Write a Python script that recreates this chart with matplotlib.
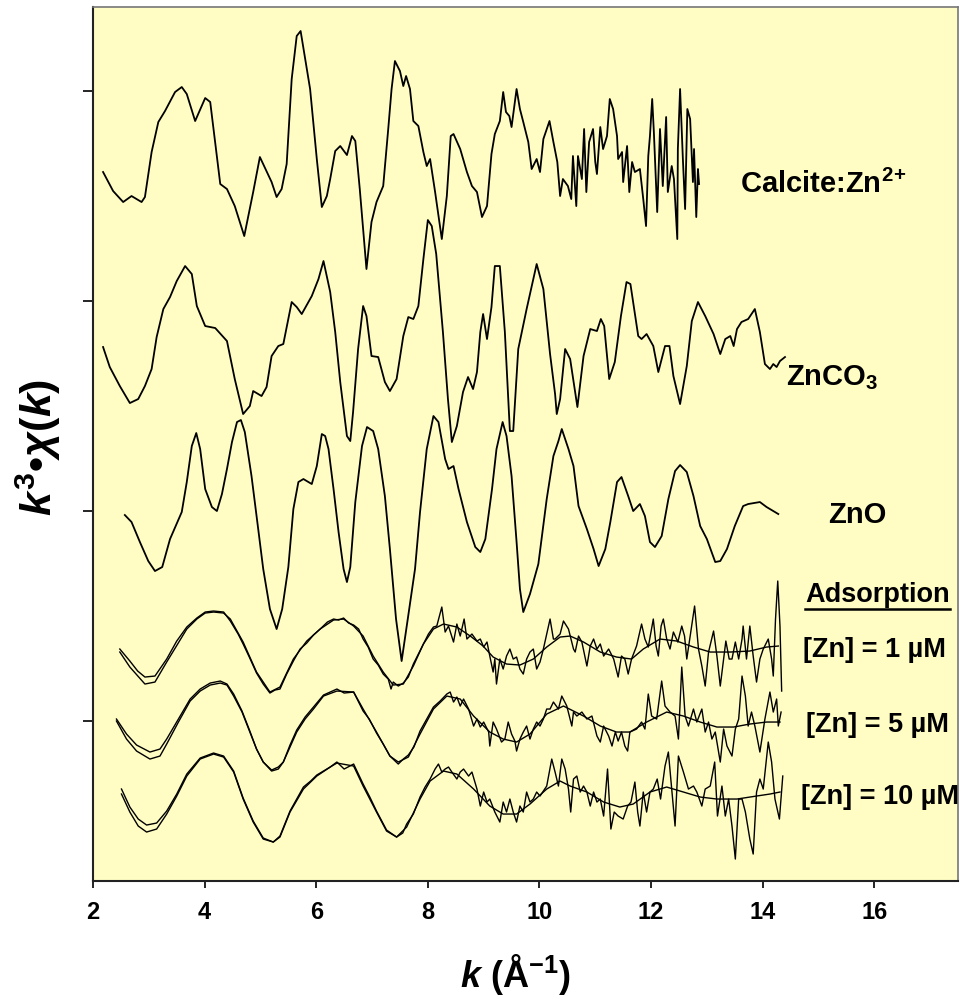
import matplotlib
matplotlib.use("Agg")
import matplotlib.pyplot as plt
from matplotlib.lines import Line2D

plt.rcParams['font.family'] = ['Liberation Sans', 'DejaVu Sans']
plt.rcParams['mathtext.fontset'] = 'custom'
plt.rcParams['mathtext.rm'] = 'Liberation Sans:bold'
plt.rcParams['mathtext.it'] = 'Liberation Sans:bold:italic'
plt.rcParams['mathtext.bf'] = 'Liberation Sans:bold'

# reference spectra (k in 1/A, chi in arbitrary units)
calcite_k = [2.18, 2.36, 2.54, 2.69, 2.87, 2.93, 3.05, 3.17, 3.29, 3.47,
             3.59, 3.68, 3.83, 4.01, 4.10, 4.28, 4.40, 4.54, 4.71, 4.87,
             4.99, 5.20, 5.29, 5.38, 5.47, 5.56, 5.65, 5.72, 5.89, 6.01,
             6.10, 6.19, 6.25, 6.34, 6.43, 6.55, 6.64, 6.70, 6.78, 6.90,
             6.99, 7.08, 7.20, 7.29, 7.35, 7.41, 7.50, 7.56, 7.61, 7.68,
             7.74, 7.83, 7.92, 7.98, 8.04, 8.13, 8.25, 8.34, 8.41, 8.46,
             8.58, 8.70, 8.79, 8.88, 8.97, 9.06, 9.14, 9.20, 9.29, 9.35,
             9.40, 9.46, 9.50, 9.59, 9.65, 9.71, 9.80, 9.86, 9.95, 10.01,
             10.07, 10.18, 10.25, 10.32, 10.37, 10.42, 10.51, 10.57, 10.60, 10.66,
             10.69, 10.76, 10.80, 10.84, 10.89, 10.96, 11.00, 11.03, 11.09, 11.14,
             11.21, 11.26, 11.32, 11.39, 11.41, 11.48, 11.50, 11.57, 11.61, 11.66,
             11.71, 11.80, 11.86, 11.91, 11.95, 11.98, 12.02, 12.05, 12.11, 12.16,
             12.21, 12.27, 12.30, 12.37, 12.41, 12.47, 12.48, 12.52, 12.57, 12.61,
             12.65, 12.70, 12.75, 12.77, 12.81, 12.84, 12.86]
calcite_chi = [-23, -42, -53, -47, -53, -48, -3, 27, 38, 57,
               62, 55, 28, 51, 47, -35, -40, -57, -87, -43,
               -8, -33, -48, -40, -15, 70, 113, 118, 60, -10,
               -58, -47, -30, -2, 3, -6, 13, 8, -40, -120,
               -73, -53, -37, 20, 60, 88, 78, 63, 73, 60,
               28, 23, -3, -17, -10, -43, -90, -47, 13, 15,
               0, -23, -37, -43, -68, -57, -5, 15, 28, 57,
               37, 33, 22, 60, 40, 27, 7, -20, -10, -23,
               10, 28, 7, -13, -47, -30, -37, -50, -7, -57,
               -7, -30, 20, -43, 7, 20, -13, -25, 22, 0,
               13, 50, 40, 13, -10, -3, -33, 3, -43, -13,
               -23, -20, -50, -77, -7, 13, 50, 17, -63, 20,
               -37, 32, -43, -17, -30, -90, 0, 60, -10, -60,
               40, 30, -33, 0, -68, -20, -35]

znco3_k = [2.18, 2.30, 2.48, 2.66, 2.81, 2.93, 3.05, 3.14, 3.26, 3.38,
           3.50, 3.65, 3.77, 3.86, 4.01, 4.19, 4.40, 4.54, 4.69, 4.81,
           4.87, 5.02, 5.11, 5.20, 5.32, 5.41, 5.56, 5.65, 5.74, 5.92,
           6.04, 6.13, 6.25, 6.34, 6.43, 6.55, 6.61, 6.66, 6.75, 6.84,
           6.90, 6.99, 7.11, 7.23, 7.32, 7.44, 7.56, 7.65, 7.74, 7.83,
           7.92, 8.00, 8.07, 8.15, 8.27, 8.36, 8.43, 8.52, 8.63, 8.72,
           8.81, 8.88, 8.94, 8.99, 9.06, 9.14, 9.20, 9.29, 9.38, 9.47,
           9.53, 9.62, 9.77, 9.95, 10.07, 10.19, 10.28, 10.31, 10.37, 10.46,
           10.55, 10.68, 10.79, 10.91, 11.03, 11.10, 11.16, 11.25, 11.35, 11.46,
           11.56, 11.63, 11.77, 11.83, 11.92, 12.04, 12.13, 12.25, 12.33, 12.40,
           12.52, 12.64, 12.73, 12.84, 12.97, 13.12, 13.24, 13.33, 13.42, 13.48,
           13.54, 13.62, 13.74, 13.86, 13.95, 14.04, 14.13, 14.19, 14.25, 14.31,
           14.40]
znco3_chi = [2, -18, -37, -54, -50, -37, -20, 12, 40, 52,
             68, 83, 75, 43, 23, 21, 8, -30, -65, -57,
             -42, -47, -38, -7, 3, 5, 47, 42, 35, 53,
             70, 88, 57, 17, -33, -87, -92, -63, 0, 43,
             33, -7, -8, -33, -42, -30, 13, 32, 30, 43,
             90, 129, 123, 95, 17, -50, -93, -77, -43, -28,
             -40, -23, 17, 35, 10, 42, 83, 83, 17, -82,
             -82, 0, 40, 85, 60, -5, -45, -65, -50, 0,
             -10, -58, -7, 20, 18, 30, 23, -30, -13, 33,
             67, 65, 13, 10, 15, 3, -23, 3, 3, -27,
             -55, -17, 28, 47, 33, 15, -5, 10, 13, 3,
             20, 27, 30, 40, 17, -15, -20, -15, -18, -12,
             -8]

zno_k = [2.57, 2.69, 2.84, 2.99, 3.11, 3.24, 3.38, 3.59, 3.68, 3.77,
         3.85, 3.92, 4.01, 4.13, 4.22, 4.31, 4.40, 4.49, 4.58, 4.65,
         4.72, 4.84, 4.96, 5.05, 5.17, 5.29, 5.39, 5.50, 5.59, 5.68,
         5.77, 5.92, 6.01, 6.10, 6.16, 6.22, 6.31, 6.40, 6.49, 6.55,
         6.61, 6.70, 6.82, 6.91, 7.02, 7.11, 7.23, 7.32, 7.43, 7.53,
         7.64, 7.77, 7.86, 7.98, 8.10, 8.19, 8.31, 8.37, 8.46, 8.55,
         8.70, 8.85, 8.94, 9.03, 9.15, 9.23, 9.34, 9.41, 9.50, 9.59,
         9.65, 9.71, 9.83, 9.98, 10.13, 10.25, 10.34, 10.40, 10.52, 10.61,
         10.70, 10.85, 10.97, 11.06, 11.18, 11.27, 11.39, 11.47, 11.59, 11.68,
         11.80, 11.89, 11.98, 12.07, 12.19, 12.31, 12.43, 12.52, 12.64, 12.76,
         12.88, 13.00, 13.15, 13.24, 13.36, 13.50, 13.65, 13.74, 13.95, 14.07,
         14.28]
zno_chi = [-16, -23, -43, -62, -72, -68, -40, -13, 17, 53,
           66, 50, 10, -8, -12, 5, 30, 57, 77, 79,
           67, 23, -30, -70, -110, -130, -110, -68, -10, 17,
           20, 15, 33, 65, 63, 50, 10, -33, -70, -83,
           -68, -3, 53, 72, 68, 50, 3, -50, -120, -162,
           -120, -70, -13, 50, 83, 77, 40, 30, 33, 10,
           -23, -48, -53, -40, 10, 50, 77, 63, 23, -43,
           -90, -113, -95, -65, 0, 43, 58, 70, 50, 33,
           -7, -30, -50, -67, -50, -23, 17, 22, 3, -12,
           -5, -17, -43, -48, -37, 0, 28, 34, 27, 3,
           -27, -40, -63, -62, -50, -27, -7, -5, -3, -8,
           -15]

# adsorption samples: measured data and fit
ads1_k = [2.48, 2.66, 2.80, 2.93, 3.11, 3.32, 3.50, 3.68, 3.86, 4.01,
          4.16, 4.34, 4.46, 4.60, 4.69, 4.80, 4.93, 5.05, 5.17, 5.26,
          5.35, 5.47, 5.59, 5.71, 5.83, 5.95, 6.07, 6.20, 6.31, 6.40,
          6.49, 6.58, 6.67, 6.76, 6.84, 6.93, 7.02, 7.11, 7.20, 7.29,
          7.34, 7.38, 7.47, 7.56, 7.65, 7.74, 7.83, 7.92, 8.01, 8.10,
          8.16, 8.25, 8.31, 8.37, 8.46, 8.52, 8.58, 8.65, 8.70, 8.79,
          8.88, 8.94, 9.00, 9.06, 9.11, 9.17, 9.20, 9.23, 9.29, 9.35,
          9.41, 9.47, 9.53, 9.59, 9.65, 9.71, 9.77, 9.83, 9.89, 9.95,
          10.01, 10.07, 10.19, 10.25,
          10.28, 10.37, 10.43, 10.52, 10.61, 10.64, 10.70, 10.76, 10.85, 10.91,
          10.97, 11.03, 11.09, 11.15, 11.24, 11.33, 11.41, 11.47, 11.53, 11.59,
          11.65, 11.74, 11.83, 11.89, 11.95, 12.04, 12.09, 12.13, 12.18, 12.22,
          12.28, 12.34, 12.40, 12.48, 12.55, 12.60, 12.64, 12.70, 12.78, 12.85,
          12.91, 12.97, 13.03, 13.12, 13.18, 13.24, 13.30, 13.34, 13.40, 13.45,
          13.51, 13.57, 13.63, 13.65, 13.71, 13.77, 13.83, 13.89, 13.95, 14.01,
          14.10, 14.16, 14.19, 14.23, 14.27, 14.31, 14.34]
ads1_chi = [0, -12, -22, -28, -27, -10, 8, 22, 31, 37,
            38, 37, 28, 15, 5, -8, -24, -35, -44, -41,
            -40, -25, -12, 0, 6, 14, 20, 27, 30, 29,
            31, 26, 24, 20, 10, 2, -10, -16, -25, -30,
            -40, -33, -37, -34, -28, -15, -5, 5, 15, 22,
            23, 42, 17, 23, 7, 25, 13, 30, 10, 15,
            8, 10, 2, 7, -7, -23, -10, -35, -10, -20,
            -7, 0, -10, -8, -20, -25, -10, -3, 0, -20,
            -13, 0, 30, 10,
            10, 15, 28, 20, 0, -3, 13, 7, -17, 3,
            10, 0, 5, -7, 0, -10, -28, -7, -10, -25,
            -10, 3, 25, 10, 2, 30, 3, -7, 23, 30,
            10, 0, 17, 7, 23, 13, -10, 13, 43, 0,
            -17, -37, -3, 18, -7, -37, -10, 8, -10, -10,
            7, -10, 10, 23, -10, 23, -7, -33, -10, 0,
            10, -10, -27, 30, 68, 23, -42]
ads1_fit_k = [2.48, 2.66, 2.93, 3.11, 3.32, 3.68, 3.86, 4.01, 4.16, 4.34,
              4.46, 4.69, 4.93, 5.17, 5.35, 5.59, 5.83, 6.07, 6.31, 6.49,
              6.67, 6.84, 7.02, 7.20, 7.38, 7.56, 7.74, 7.92, 8.10, 8.28,
              8.52, 8.76, 8.99, 9.17, 9.41, 9.65, 9.89, 10.13, 10.37, 10.55,
              10.79, 11.09, 11.38, 11.65, 11.86, 12.16, 12.46, 12.76, 13.06, 13.42,
              13.77, 14.07, 14.28]
ads1_fit = [-3, -18, -35, -33, -13, 20, 30, 36, 37, 36,
            30, 7, -23, -43, -38, -10, 8, 20, 29, 30,
            23, 13, -7, -23, -36, -35, -17, 5, 20, 25,
            22, 13, 3, -8, -15, -16, -10, 2, 12, 13,
            7, -3, -8, -10, 0, 10, 8, 2, -3, -3,
            -2, 2, 3]

ads5_k = [2.42, 2.60, 2.78, 3.02, 3.20, 3.32, 3.53, 3.74, 3.92, 4.10,
          4.28, 4.40, 4.52, 4.67, 4.81, 4.93, 5.05, 5.20, 5.32, 5.41,
          5.53, 5.65, 5.80, 5.95, 6.13, 6.25, 6.37, 6.50, 6.67, 6.84,
          6.95, 7.08, 7.20, 7.32, 7.47, 7.56, 7.65, 7.75, 7.86, 7.98,
          8.10, 8.22, 8.34,
          8.40, 8.46, 8.52, 8.58, 8.64, 8.73, 8.82, 8.88, 8.94, 9.00,
          9.09, 9.11, 9.17, 9.23, 9.32, 9.38, 9.44, 9.50, 9.56, 9.59,
          9.65, 9.71, 9.77, 9.83, 9.89, 9.95, 10.01, 10.07, 10.13,
          10.19, 10.25, 10.34, 10.40, 10.49, 10.58, 10.61, 10.67, 10.76, 10.85,
          10.94, 11.03, 11.09, 11.15, 11.24, 11.30, 11.36, 11.41, 11.47, 11.53,
          11.58, 11.62, 11.74, 11.83, 11.89, 11.95, 12.01, 12.10, 12.19, 12.25,
          12.34, 12.43, 12.49, 12.55, 12.61, 12.67, 12.76, 12.82, 12.91, 12.97,
          13.03, 13.09, 13.15, 13.24, 13.30, 13.36, 13.45, 13.51, 13.57, 13.63,
          13.69, 13.74, 13.80, 13.86, 13.95, 14.04, 14.13, 14.19, 14.25, 14.28,
          14.33]
ads5_chi = [0, -15, -26, -33, -30, -20, 0, 20, 30, 36,
            38, 35, 25, 8, -12, -30, -43, -51, -48, -43,
            -26, -11, 2, 12, 24, 27, 30, 26, 27, 8,
            0, -14, -25, -37, -45, -40, -36, -28, -12, 0,
            12, 18, 25,
            27, 17, 22, 13, 20, 10, -7, 0, -8, -3,
            -13, -27, -3, -10, -23, -20, -3, -15, -22, -32,
            -20, -13, -7, -20, -10, -3, -7, 0, 10,
            10, 17, 10, 23, 13, -7, 7, 3, 7, 0,
            3, -17, -23, -7, -17, -27, -13, -22, -13, -27,
            -32, -13, -10, -3, -10, 25, 3, 0, 38, 13,
            7, 3, -20, 52, 3, -7, 10, -3, 10, -13,
            -3, -20, -13, -43, -10, -27, -37, -10, 0, 43,
            23, -7, 7, -7, -33, 0, 27, 7, 20, -7,
            7]
ads5_fit_k = [2.42, 2.60, 2.78, 3.02, 3.20, 3.32, 3.53, 3.74, 3.92, 4.10,
              4.28, 4.40, 4.52, 4.67, 4.81, 4.93, 5.05, 5.20, 5.32, 5.41,
              5.53, 5.65, 5.80, 5.95, 6.13, 6.37, 6.67, 6.84, 7.08, 7.32,
              7.47, 7.65, 7.86, 8.10, 8.34, 8.58, 8.82, 9.11, 9.35, 9.59,
              9.83, 10.13, 10.43, 10.79, 11.09, 11.38, 11.62, 11.92, 12.28, 12.58,
              12.88, 13.18, 13.48, 13.77, 14.07, 14.31]
ads5_fit = [-2, -20, -32, -40, -37, -25, -3, 18, 28, 34,
            36, 34, 23, 7, -13, -30, -43, -52, -50, -43,
            -28, -13, 0, 10, 23, 28, 27, 10, -13, -37,
            -43, -38, -15, 10, 23, 20, 3, -13, -20, -23,
            -15, 5, 13, 3, -7, -13, -13, -3, 7, 3,
            -3, -8, -8, -5, -3, -3]

ads10_k = [2.51, 2.66, 2.81, 2.96, 3.14, 3.32, 3.50, 3.68, 3.92, 4.16,
           4.34, 4.52, 4.69, 4.87, 5.05, 5.23, 5.35, 5.53, 5.65, 5.77,
           5.90, 6.01, 6.13, 6.25, 6.37, 6.50, 6.67, 6.84, 6.96, 7.08,
           7.26, 7.44, 7.55, 7.62, 7.74, 7.86, 7.95,
           8.04, 8.13, 8.19, 8.25, 8.31, 8.37, 8.43, 8.52, 8.58, 8.64,
           8.73, 8.79, 8.88, 8.94, 9.00, 9.06, 9.11, 9.20, 9.29, 9.35,
           9.41, 9.47, 9.53, 9.59, 9.65, 9.71, 9.77, 9.83, 9.89, 9.95,
           10.01, 10.13,
           10.22, 10.28, 10.34, 10.40, 10.46, 10.52, 10.56, 10.61, 10.67, 10.73,
           10.79, 10.85, 10.91, 10.97, 11.03, 11.09, 11.15, 11.22, 11.28, 11.34,
           11.41, 11.50, 11.58, 11.64, 11.71, 11.76, 11.80, 11.86, 11.92, 11.98,
           12.04, 12.11, 12.17, 12.25, 12.31, 12.37, 12.43, 12.49, 12.58, 12.67,
           12.76, 12.82, 12.91, 12.97, 13.06, 13.14, 13.19, 13.27, 13.33, 13.39,
           13.45, 13.51, 13.57, 13.63, 13.69, 13.77, 13.83, 13.89, 13.95, 14.01,
           14.10, 14.16, 14.22, 14.30, 14.36]
ads10_chi = [0, -18, -30, -36, -34, -22, -5, 15, 31, 36,
             33, 18, -9, -32, -49, -53, -47, -22, -10, 2,
             8, 14, 18, 22, 27, 20, 25, 5, -8, -22,
             -41, -48, -44, -35, -25, -8, 2,
             10, 20, 25, 17, 20, 22, 17, 10, 17, 20,
             13, 17, 0, -17, -3, -13, -10, -23, -33, -13,
             -23, -10, -23, -33, -17, -23, -3, -13, -10, -3,
             -7, 3,
             30, 17, 3, 30, 20, 0, -23, 10, 13, -3,
             3, -3, -17, -3, -13, -10, -27, 20, -40, -23,
             -27, -30, -17, -13, 7, -23, -37, -3, -23, -3,
             0, 10, -10, 23, 37, 0, -37, 33, 17, 0,
             3, -3, -17, 0, 3, 27, -27, 3, -27, -10,
             -37, -70, -10, -10, -23, -50, -65, -3, 10, 0,
             47, 27, -10, -30, 13]
ads10_fit_k = [2.51, 2.66, 2.81, 2.96, 3.14, 3.32, 3.50, 3.68, 3.92, 4.16,
               4.34, 4.52, 4.69, 4.87, 5.05, 5.23, 5.35, 5.53, 5.77, 6.01,
               6.25, 6.37, 6.67, 6.84, 7.08, 7.26, 7.44, 7.62, 7.86, 8.04,
               8.28, 8.52, 8.82, 9.11, 9.35, 9.59, 9.83, 10.13, 10.37, 10.55,
               10.85, 11.15, 11.44, 11.68, 11.98, 12.28, 12.58, 12.88, 13.18, 13.54,
               13.89, 14.13, 14.31]
ads10_fit = [-5, -23, -37, -43, -40, -25, -7, 13, 30, 35,
             32, 17, -10, -33, -50, -53, -48, -23, 0, 13,
             22, 26, 23, 3, -23, -42, -48, -38, -10, 8,
             18, 15, 0, -17, -25, -25, -15, 0, 8, 3,
             -3, -13, -18, -15, -3, 2, -3, -8, -10, -10,
             -7, -5, -3]

# vertical stacking offsets
offsets = {'calcite': 732, 'znco3': 532, 'zno': 382,
           'ads1': 232, 'ads5': 162, 'ads10': 92}

fig = plt.figure(figsize=(9.63, 10.03), dpi=100)
ax = fig.add_axes([0.0966, 0.1206, 0.8982, 0.8714])
ax.set_facecolor('#FFFDC3')

lw_ref = 1.3
ax.plot(calcite_k, [c + offsets['calcite'] for c in calcite_chi], color='black', lw=lw_ref)
ax.plot(znco3_k, [c + offsets['znco3'] for c in znco3_chi], color='black', lw=lw_ref)
ax.plot(zno_k, [c + offsets['zno'] for c in zno_chi], color='black', lw=lw_ref)

for name, kd, cd, kf, cf in [('ads1', ads1_k, ads1_chi, ads1_fit_k, ads1_fit),
                             ('ads5', ads5_k, ads5_chi, ads5_fit_k, ads5_fit),
                             ('ads10', ads10_k, ads10_chi, ads10_fit_k, ads10_fit)]:
    off = offsets[name]
    ax.plot(kd, [c + off for c in cd], color='black', lw=1.0)
    ax.plot(kf, [c + off for c in cf], color='black', lw=1.0)

ax.set_xlim(2, 17.5)
ax.set_ylim(0, 874)
ax.set_xticks([2, 4, 6, 8, 10, 12, 14, 16])
ax.set_yticks([160, 370, 580, 790])
ax.set_yticklabels([])
ax.tick_params(axis='x', direction='out', length=5, width=1.2, pad=9, labelsize=17)
ax.tick_params(axis='y', direction='out', length=7, width=1.2)
for lab in ax.get_xticklabels():
    lab.set_fontweight('bold')

for side in ['left', 'bottom']:
    ax.spines[side].set_color('#222222')
    ax.spines[side].set_linewidth(1.5)
for side in ['top', 'right']:
    ax.spines[side].set_color('#777777')
    ax.spines[side].set_linewidth(1.2)

ax.set_xlabel('$k$ (Å$^{-1}$)', fontsize=26, fontweight='bold')
ax.xaxis.set_label_coords(0.488, -0.106)
ax.xaxis.label.set_verticalalignment('center')
ax.set_ylabel('$k^{3}$•$\\chi$($k$)', fontsize=31, fontweight='bold')
ax.yaxis.set_label_coords(-0.063, 0.497)
ax.yaxis.label.set_verticalalignment('center')

tkw = dict(fontweight='bold', va='center', ha='left', color='black')
ax.text(13.6, 698, 'Calcite:Zn$^{2\\!+}$', fontsize=21, **tkw)
ax.text(14.42, 504, 'ZnCO$_{3}$', fontsize=21, **tkw)
ax.text(15.17, 367, 'ZnO', fontsize=21, **tkw)
t_ads = ax.text(14.76, 287, 'Adsorption', fontsize=19.5, **tkw)
ax.text(14.72, 232, '[Zn] = 1 µM', fontsize=19.5, **tkw)
ax.text(14.78, 157, '[Zn] = 5 µM', fontsize=19.5, **tkw)
ax.text(14.69, 85, '[Zn] = 10 µM', fontsize=19.5, **tkw)

# underline the "Adsorption" heading
fig.canvas.draw()
bb = t_ads.get_window_extent()
inv = fig.transFigure.inverted()
(x0, y0), (x1, _) = inv.transform([(bb.x0, bb.y0), (bb.x1, bb.y1)])
fig.add_artist(Line2D([x0, x1], [y0 - 0.002, y0 - 0.002],
                      transform=fig.transFigure, color='black', lw=1.8))

fig.savefig('out.png', dpi=100, facecolor='white')
